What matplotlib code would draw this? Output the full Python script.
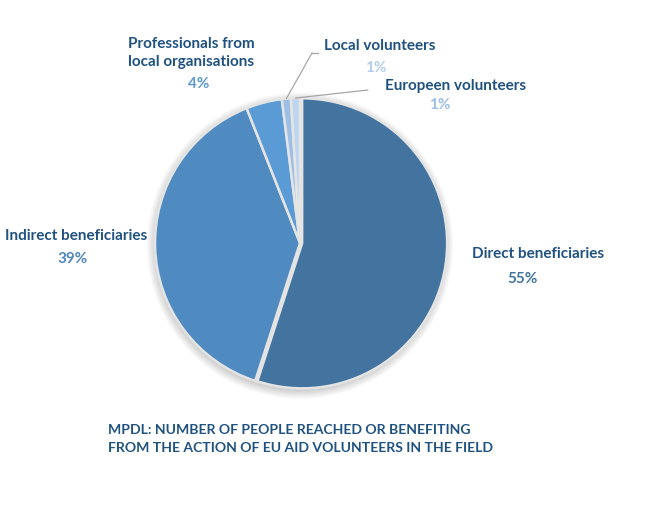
import numpy as np
import matplotlib.pyplot as plt
from matplotlib.patches import Circle

plt.rcParams['font.family'] = ['Lato', 'DejaVu Sans']

# data
labels = ['Direct beneficiaries', 'Indirect beneficiaries',
          'Professionals from\nlocal organisations', 'Local volunteers',
          'Europeen volunteers']
values = [55, 39, 4, 1, 1]
pcts = ['55%', '39%', '4%', '1%', '1%']
colors = ['#43739F', '#4F8BC1', '#5B9BD5', '#9DBFE6', '#BDD5EE']
title = 'MPDL: NUMBER OF PEOPLE REACHED OR BENEFITING\nFROM THE ACTION OF EU AID VOLUNTEERS IN THE FIELD'

W, H = 660, 518
fig = plt.figure(figsize=(W / 100, H / 100), dpi=100)

# pie centre and radius in pixels
cx, cy, r = 300, 243, 145
lim = 1.15
ax = fig.add_axes([(cx - r * lim) / W, (H - cy - r * lim) / H, 2 * r * lim / W, 2 * r * lim / H])

# soft shadow
for i in range(8):
    ax.add_patch(Circle((0.0, -0.018), 1.0 + 0.008 * i, color='black', alpha=0.022, lw=0, zorder=0))

wedges, _ = ax.pie(values, colors=colors, startangle=90, counterclock=False,
                   explode=[0.015, 0, 0, 0, 0],
                   wedgeprops=dict(edgecolor='#E4E4E4', linewidth=1.8))
for w in wedges:
    w.set_zorder(2)
ax.set_xlim(-lim, lim)
ax.set_ylim(-lim, lim)
ax.set_aspect('equal')
ax.axis('off')


def fxy(px, py):
    return px / W, 1 - py / H


dark = '#1F5281'
lab_fs = 11
# label positions (pixels): name centre, pct centre
lab_pos = [((538, 254), (522, 279)),
           ((76, 236), (73, 259)),
           ((191, 53), (199, 84)),
           ((380, 46), (376, 68)),
           ((456, 86), (440, 105))]
pct_cols = ['#43739F', '#4F86BB', '#5B9BD5', '#B4CDEB', '#9DBFE6']
for name, pct, (npos, ppos), pc in zip(labels, pcts, lab_pos, pct_cols):
    fig.text(*fxy(*npos), name, ha='center', va='center', fontsize=lab_fs,
             fontweight='bold', color=dark, linespacing=1.4)
    fig.text(*fxy(*ppos), pct, ha='center', va='center', fontsize=lab_fs,
             fontweight='bold', color=pc)

# leader lines for the two small slices
for k, start in [(3, (312, 53)), (4, (368, 90))]:
    w = wedges[k]
    mid = np.deg2rad((w.theta1 + w.theta2) / 2)
    xy = (np.cos(mid) * 1.0, np.sin(mid) * 1.0)
    ax.annotate('', xy=xy, xycoords='data', xytext=fxy(*start), textcoords='figure fraction',
                arrowprops=dict(arrowstyle='-', color='#A6A6A6', lw=0.9, shrinkA=0, shrinkB=0),
                annotation_clip=False)
fig.add_artist(plt.Line2D([312 / W, 318 / W], [1 - 53 / H] * 2, color='#A6A6A6', lw=0.9))

fig.text(*fxy(108, 439), title, ha='left', va='center', fontsize=10.1, fontweight='bold',
         color=dark, linespacing=1.55)

fig.savefig('out.png', dpi=100)
